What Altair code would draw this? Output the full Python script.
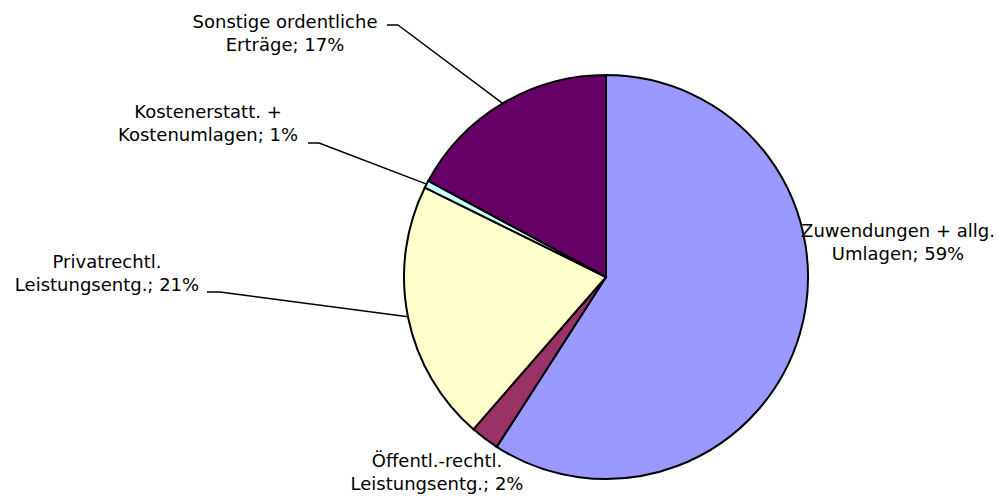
import altair as alt
import pandas as pd

# ---- data ----
categories = [
    "Zuwendungen + allg. Umlagen",
    "Öffentl.-rechtl. Leistungsentg.",
    "Privatrechtl. Leistungsentg.",
    "Kostenerstatt. + Kostenumlagen",
    "Sonstige ordentliche Erträge",
]
values = [59.1, 2.3, 20.9, 0.6, 17.1]
label_line1 = ["Zuwendungen + allg.", "Öffentl.-rechtl.", "Privatrechtl.", "Kostenerstatt. +", "Sonstige ordentliche"]
label_line2 = ["Umlagen", "Leistungsentg.", "Leistungsentg.", "Kostenumlagen", "Erträge"]
colors = ["#9999FF", "#993366", "#FFFFCC", "#CCFFFF", "#660066"]

# ---- layout (plot-area pixels) ----
W, H = 988, 487
CX, CY, R = 598, 269, 202
label_pos = {  # centre x, first-line baseline y
    categories[0]: (890, 229),
    categories[1]: (429, 459),
    categories[2]: (99, 260),
    categories[3]: (200, 110),
    categories[4]: (277, 20),
}
leader_pos = {  # horizontal tick x0, x1, y
    categories[2]: (199, 212, 284),
    categories[3]: (300, 311, 135),
    categories[4]: (379, 390, 17),
}

df = pd.DataFrame({
    "category": categories,
    "value": values,
    "order": list(range(len(categories))),
    "line1": label_line1,
    "line2": label_line2,
    "lx": [label_pos[c][0] for c in categories],
    "ly": [label_pos[c][1] for c in categories],
    "has_leader": [c in leader_pos for c in categories],
    "tx0": [leader_pos.get(c, (0, 0, 0))[0] for c in categories],
    "tx1": [leader_pos.get(c, (0, 0, 0))[1] for c in categories],
    "ty": [leader_pos.get(c, (0, 0, 0))[2] for c in categories],
})

base = alt.Chart(df).transform_joinaggregate(
    total="sum(value)"
).transform_window(
    cum="sum(value)", sort=[alt.SortField("order")], frame=[None, 0]
).transform_calculate(
    mid="(datum.cum - datum.value/2) / datum.total * 2 * PI",
    ex=f"{CX} + {R} * sin(datum.mid)",
    ey=f"{CY} - {R} * cos(datum.mid)",
    label="datum.line1 + '\\n' + datum.line2 + '; ' + format(datum.value / datum.total, '.0%')",
)

pie = alt.Chart(df).mark_arc(radius=R, stroke="black", strokeWidth=2).encode(
    theta=alt.Theta("value:Q", stack=True),
    order=alt.Order("order:Q"),
    color=alt.Color("category:N", scale=alt.Scale(domain=categories, range=colors), legend=None),
    x=alt.value(CX),
    y=alt.value(CY),
)

leaders = base.transform_filter("datum.has_leader").mark_rule(color="black", strokeWidth=1.5).encode(
    x=alt.X("tx1:Q", scale=None),
    y=alt.Y("ty:Q", scale=None),
    x2="ex:Q",
    y2="ey:Q",
)
ticks = base.transform_filter("datum.has_leader").mark_rule(color="black", strokeWidth=1.5).encode(
    x=alt.X("tx0:Q", scale=None),
    y=alt.Y("ty:Q", scale=None),
    x2="tx1:Q",
    y2="ty:Q",
)

labels = base.mark_text(
    font="DejaVu Sans", fontSize=18, align="center", baseline="alphabetic",
    lineBreak="\n", lineHeight=23, color="black",
).encode(
    x=alt.X("lx:Q", scale=None),
    y=alt.Y("ly:Q", scale=None),
    text="label:N",
)

chart = alt.layer(pie, leaders, ticks, labels).properties(
    width=W, height=H, padding=0, autosize=alt.AutoSizeParams(type="none"),
).configure_view(stroke=None)

chart.save("out.html", embed_options={"renderer": "svg", "actions": False})
